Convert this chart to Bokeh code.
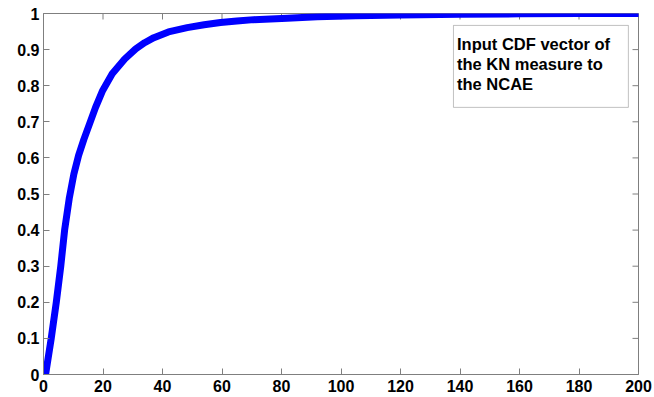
from bokeh.plotting import figure
from bokeh.models import LinearAxis, Range1d, BoxAnnotation, Label, FixedTicker
from bokeh.embed import file_html
from bokeh.resources import INLINE

# CDF curve
cdf_x = [0.7, 2.6, 4.3, 5.8, 7.1, 8.7, 10.2, 11.8, 13.6, 15.6, 17.5, 19.9, 23.1, 27.3,
         31.0, 34.0, 37.1, 42.0, 48.3, 54.0, 59.5, 65.0, 70.7, 81.9, 92.0, 105.0,
         120.0, 140.0, 160.0, 180.0, 200.0]
cdf_y = [0.0, 0.10, 0.20, 0.30, 0.40, 0.49, 0.555, 0.607, 0.652, 0.697, 0.740, 0.787,
         0.833, 0.874, 0.902, 0.919, 0.933, 0.949, 0.961, 0.969, 0.975, 0.979, 0.983,
         0.987, 0.991, 0.994, 0.996, 0.998, 0.999, 1.0, 1.0]

x_ticks = [0, 20, 40, 60, 80, 100, 120, 140, 160, 180, 200]
y_ticks = [0, 0.1, 0.2, 0.3, 0.4, 0.5, 0.6, 0.7, 0.8, 0.9, 1]
y_tick_labels = ["0", "0.1", "0.2", "0.3", "0.4", "0.5", "0.6", "0.7", "0.8", "0.9", "1"]

legend_lines = ["Input CDF vector of", "the KN measure to", "the NCAE"]

FONT = "Liberation Sans"
AXIS_COLOR = "#7f7f7f"

p = figure(width=654, height=397, output_backend="svg", toolbar_location=None,
           x_range=Range1d(0, 200), y_range=Range1d(0, 1),
           x_axis_type=None, y_axis_type=None,
           min_border_left=43, min_border_right=16, min_border_top=13, min_border_bottom=23)
p.xgrid.visible = False
p.ygrid.visible = False
p.outline_line_color = AXIS_COLOR
p.background_fill_color = "white"
p.border_fill_color = "white"


def style(ax, standoff):
    ax.axis_line_color = AXIS_COLOR
    ax.major_tick_line_color = AXIS_COLOR
    ax.minor_tick_line_color = None
    ax.major_tick_in = 6
    ax.major_tick_out = 0
    ax.major_label_text_font = FONT
    ax.major_label_text_font_style = "bold"
    ax.major_label_text_color = "black"
    ax.major_label_text_font_size = "16px"
    ax.major_label_standoff = standoff


xb = LinearAxis(ticker=FixedTicker(ticks=x_ticks))
style(xb, 5)
p.add_layout(xb, "below")
yl = LinearAxis(ticker=FixedTicker(ticks=y_ticks))
yl.major_label_overrides = {t: s for t, s in zip(y_ticks, y_tick_labels)}
style(yl, 4)
p.add_layout(yl, "left")

# inward ticks on the top and right edges of the box
TICK_X = 6 / 2.975   # 6 px in x data units
TICK_Y = 6 / 361.0   # 6 px in y data units
p.segment(x0=x_ticks, y0=[1] * len(x_ticks), x1=x_ticks, y1=[1 - TICK_Y] * len(x_ticks),
          line_color=AXIS_COLOR, line_width=1)
p.segment(x0=[200] * len(y_ticks), y0=y_ticks, x1=[200 - TICK_X] * len(y_ticks), y1=y_ticks,
          line_color=AXIS_COLOR, line_width=1)

p.line(cdf_x, cdf_y, line_color="#0000ff", line_width=7, line_join="round", line_cap="round")

box = BoxAnnotation(left=137.8, right=196.6, top=0.967, bottom=0.740,
                    fill_color="white", fill_alpha=1.0, line_color="#333333", line_width=1)
p.add_layout(box)

for i, t in enumerate(legend_lines):
    p.add_layout(Label(x=139.0, y=0.915 - i * 0.0545, text=t, text_font=FONT,
                       text_font_style="bold", text_font_size="16.5px", text_color="black",
                       text_baseline="alphabetic"))

open("out.html", "w").write(file_html(p, INLINE))
